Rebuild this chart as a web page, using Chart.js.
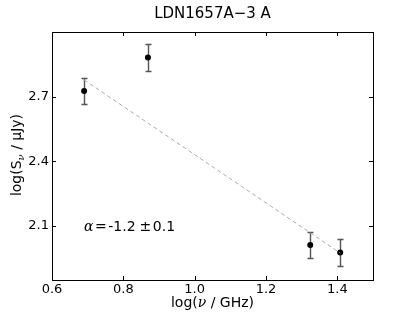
<!DOCTYPE html>
<html>
<head>
<meta charset="utf-8">
<script src="https://cdn.jsdelivr.net/npm/chart.js@4/dist/chart.umd.min.js"></script>
<style>
  html, body { margin: 0; padding: 0; background: #fff; }
  #wrap { width: 415px; height: 312px; }
</style>
</head>
<body>
<div id="wrap"><canvas id="myChart" width="415" height="312"></canvas></div>
<script>
const ctx = document.getElementById('myChart').getContext('2d');

// measured points
const logFreq = [0.69, 0.869, 1.324, 1.408];
const logFlux = [2.726, 2.882, 2.012, 1.977];
const fluxErr = [0.062, 0.061, 0.062, 0.062];

// fitted power law (end points)
const fitX = [0.69, 1.408];
const fitY = [2.778, 1.975];

const xTicks = [0.6, 0.8, 1.0, 1.2, 1.4];
const yTicks = [2.1, 2.4, 2.7];

const FONT = 'DejaVu Sans';

// error bars, frame, inward ticks and labels
const decorations = {
    id: 'decorations',
    beforeDatasetsDraw(chart) {
        const c = chart.ctx;
        const xs = chart.scales.x, ys = chart.scales.y;
        c.save();
        c.strokeStyle = '#555';
        c.lineWidth = 1.4;
        logFreq.forEach((x, i) => {
            const px = Math.round(xs.getPixelForValue(x)) + 0.5;
            const top = Math.round(ys.getPixelForValue(logFlux[i] + fluxErr[i])) + 0.5;
            const bot = Math.round(ys.getPixelForValue(logFlux[i] - fluxErr[i])) + 0.5;
            c.beginPath();
            c.moveTo(px, top); c.lineTo(px, bot);
            c.moveTo(px - 3, top); c.lineTo(px + 3, top);
            c.moveTo(px - 3, bot); c.lineTo(px + 3, bot);
            c.stroke();
        });
        c.restore();
    },
    afterDraw(chart) {
        const c = chart.ctx;
        const a = chart.chartArea;
        const xs = chart.scales.x, ys = chart.scales.y;
        c.save();
        c.strokeStyle = '#000';
        c.lineWidth = 1;
        c.strokeRect(Math.round(a.left) + 0.5, Math.round(a.top) + 0.5,
                     Math.round(a.right - a.left), Math.round(a.bottom - a.top));
        c.beginPath();
        xTicks.forEach(v => {
            const px = Math.round(xs.getPixelForValue(v)) + 0.5;
            c.moveTo(px, a.bottom); c.lineTo(px, a.bottom - 4);
            c.moveTo(px, a.top); c.lineTo(px, a.top + 4);
        });
        yTicks.forEach(v => {
            const py = Math.round(ys.getPixelForValue(v)) + 0.5;
            c.moveTo(a.left, py); c.lineTo(a.left + 4, py);
            c.moveTo(a.right, py); c.lineTo(a.right - 4, py);
        });
        c.stroke();

        c.fillStyle = '#000';
        // title
        c.textAlign = 'center';
        c.textBaseline = 'alphabetic';
        c.font = '15px "' + FONT + '"';
        c.fillText('LDN1657A\u22123 A', (a.left + a.right) / 2, 18);

        // x axis title
        const cx = (a.left + a.right) / 2;
        const p1 = 'log(', p2 = '\u03bd', p3 = ' / GHz)';
        c.font = '14px "' + FONT + '"';
        const w1 = c.measureText(p1).width, w3 = c.measureText(p3).width;
        c.font = 'italic 14px "DejaVu Serif"';
        const w2 = c.measureText(p2).width;
        let x0 = cx - (w1 + w2 + w3) / 2;
        c.textAlign = 'left';
        c.font = '14px "' + FONT + '"';
        c.fillText(p1, x0, 307);
        c.font = 'italic 14px "DejaVu Serif"';
        c.fillText(p2, x0 + w1, 307);
        c.font = '14px "' + FONT + '"';
        c.fillText(p3, x0 + w1 + w2, 307);

        // y axis title
        c.save();
        c.translate(21, (a.top + a.bottom) / 2 - 1);
        c.rotate(-Math.PI / 2);
        const q1 = 'log(S', q2 = '\u03bd', q3 = ' / \u03bcJy)';
        c.font = '14px "' + FONT + '"';
        const v1 = c.measureText(q1).width, v3 = c.measureText(q3).width;
        c.font = 'italic 10px "DejaVu Serif"';
        const v2 = c.measureText(q2).width;
        let y0 = -(v1 + v2 + v3) / 2;
        c.font = '14px "' + FONT + '"';
        c.fillText(q1, y0, 0);
        c.font = 'italic 10px "DejaVu Serif"';
        c.fillText(q2, y0 + v1, 3);
        c.font = '14px "' + FONT + '"';
        c.fillText(q3, y0 + v1 + v2, 0);
        c.restore();

        // spectral index
        const tx = xs.getPixelForValue(0.69), ty = ys.getPixelForValue(2.1) + 5;
        const parts = [
            ['\u03b1', 'italic 14px "DejaVu Serif"', 1.5],
            ['=', '14px "DejaVu Serif"', 1.5],
            ['-1.2', '14px "' + FONT + '"', 4],
            ['\u00b1', '14px "DejaVu Serif"', 1.5],
            ['0.1', '14px "' + FONT + '"', 0]
        ];
        let px = tx;
        parts.forEach(([t, f, gap]) => {
            c.font = f;
            c.fillText(t, px, ty);
            px += c.measureText(t).width + gap;
        });
        c.restore();
    }
};

new Chart(ctx, {
    type: 'scatter',
    data: {
        datasets: [
            {
                label: 'fit',
                type: 'line',
                data: fitX.map((x, i) => ({ x: x, y: fitY[i] })),
                borderColor: '#aaaaaa',
                borderWidth: 1,
                borderDash: [4, 3],
                pointRadius: 0,
                fill: false,
                tension: 0
            },
            {
                label: 'data',
                data: logFreq.map((x, i) => ({ x: x, y: logFlux[i] })),
                backgroundColor: '#000',
                borderColor: '#000',
                pointRadius: 3,
                pointBorderWidth: 0
            }
        ]
    },
    options: {
        responsive: false,
        animation: false,
        layout: { padding: { top: 32, right: 42, left: 0, bottom: 0 } },
        plugins: {
            legend: { display: false },
            tooltip: { enabled: false }
        },
        scales: {
            x: {
                type: 'linear',
                min: 0.6,
                max: 1.5,
                afterBuildTicks: s => { s.ticks = xTicks.map(v => ({ value: v })); },
                afterFit: s => { s.height = 32; },
                grid: { display: false, drawTicks: false },
                border: { display: false },
                ticks: {
                    padding: 2,
                    color: '#000',
                    font: { family: FONT, size: 13 },
                    callback: v => v.toFixed(1)
                }
            },
            y: {
                type: 'linear',
                min: 1.85,
                max: 3.0,
                afterBuildTicks: s => { s.ticks = yTicks.map(v => ({ value: v })); },
                afterFit: s => { s.width = 52; },
                grid: { display: false, drawTicks: false },
                border: { display: false },
                ticks: {
                    padding: 3,
                    color: '#000',
                    font: { family: FONT, size: 13 },
                    callback: v => v.toFixed(1)
                }
            }
        }
    },
    plugins: [decorations]
});
</script>
</body>
</html>
